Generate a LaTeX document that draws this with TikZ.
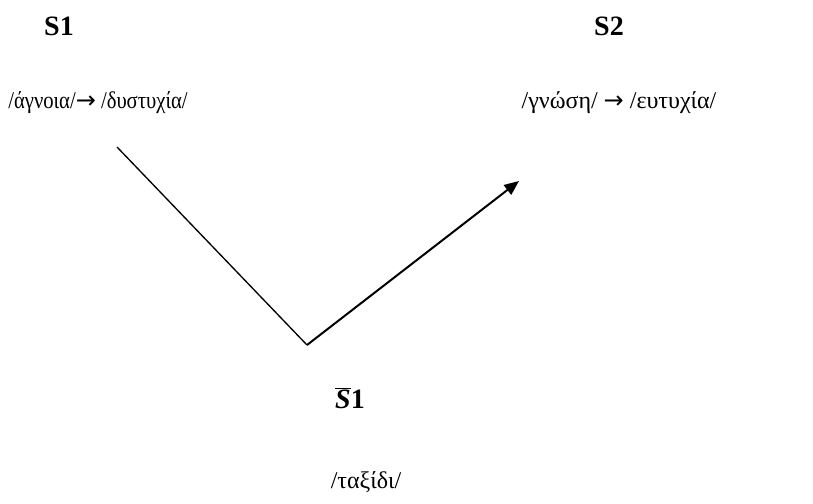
\documentclass[tikz,border=0pt]{standalone}
\usepackage{fontspec}
\setmainfont{Liberation Serif}
\newfontfamily\narrowserif[FakeStretch=0.86]{Liberation Serif}
\newfontfamily\arrowfont{DejaVu Sans}
\usetikzlibrary{arrows.meta}

\newcommand{\rarr}{{\arrowfont →}}
\tikzset{
  state/.style={font=\fontsize{21}{24}\selectfont\bfseries},
  word/.style={font=\fontsize{18}{21}\selectfont}
}

\begin{document}
\begin{tikzpicture}[x=0.75pt,y=-0.75pt]
  \useasboundingbox (0,0) rectangle (813,503);
  \coordinate (A) at (117,147);
  \coordinate (V) at (307,345);
  \coordinate (B) at (519,181);
  \node[state] (s1) at (59,26) {S1};
  \node[word] (w1) at (98,103) {\narrowserif /άγνοια/\rarr{} /δυστυχία/};
  \node[state] (s2) at (609,26) {S2};
  \node[word] (w2) at (619,103) {/γνώση/ \rarr{} /ευτυχία/};
  \node[state] (s1bar) at (350,398) {$\overline{\hbox{\textit{S}}}$1};
  \node[word] (w3) at (366,482) {/ταξίδι/};
  \draw[line width=1pt] (A) -- (V);
  \draw[line width=1.5pt, -{Triangle[length=11pt,width=9pt]}] (V) -- (B);
\end{tikzpicture}
\end{document}
